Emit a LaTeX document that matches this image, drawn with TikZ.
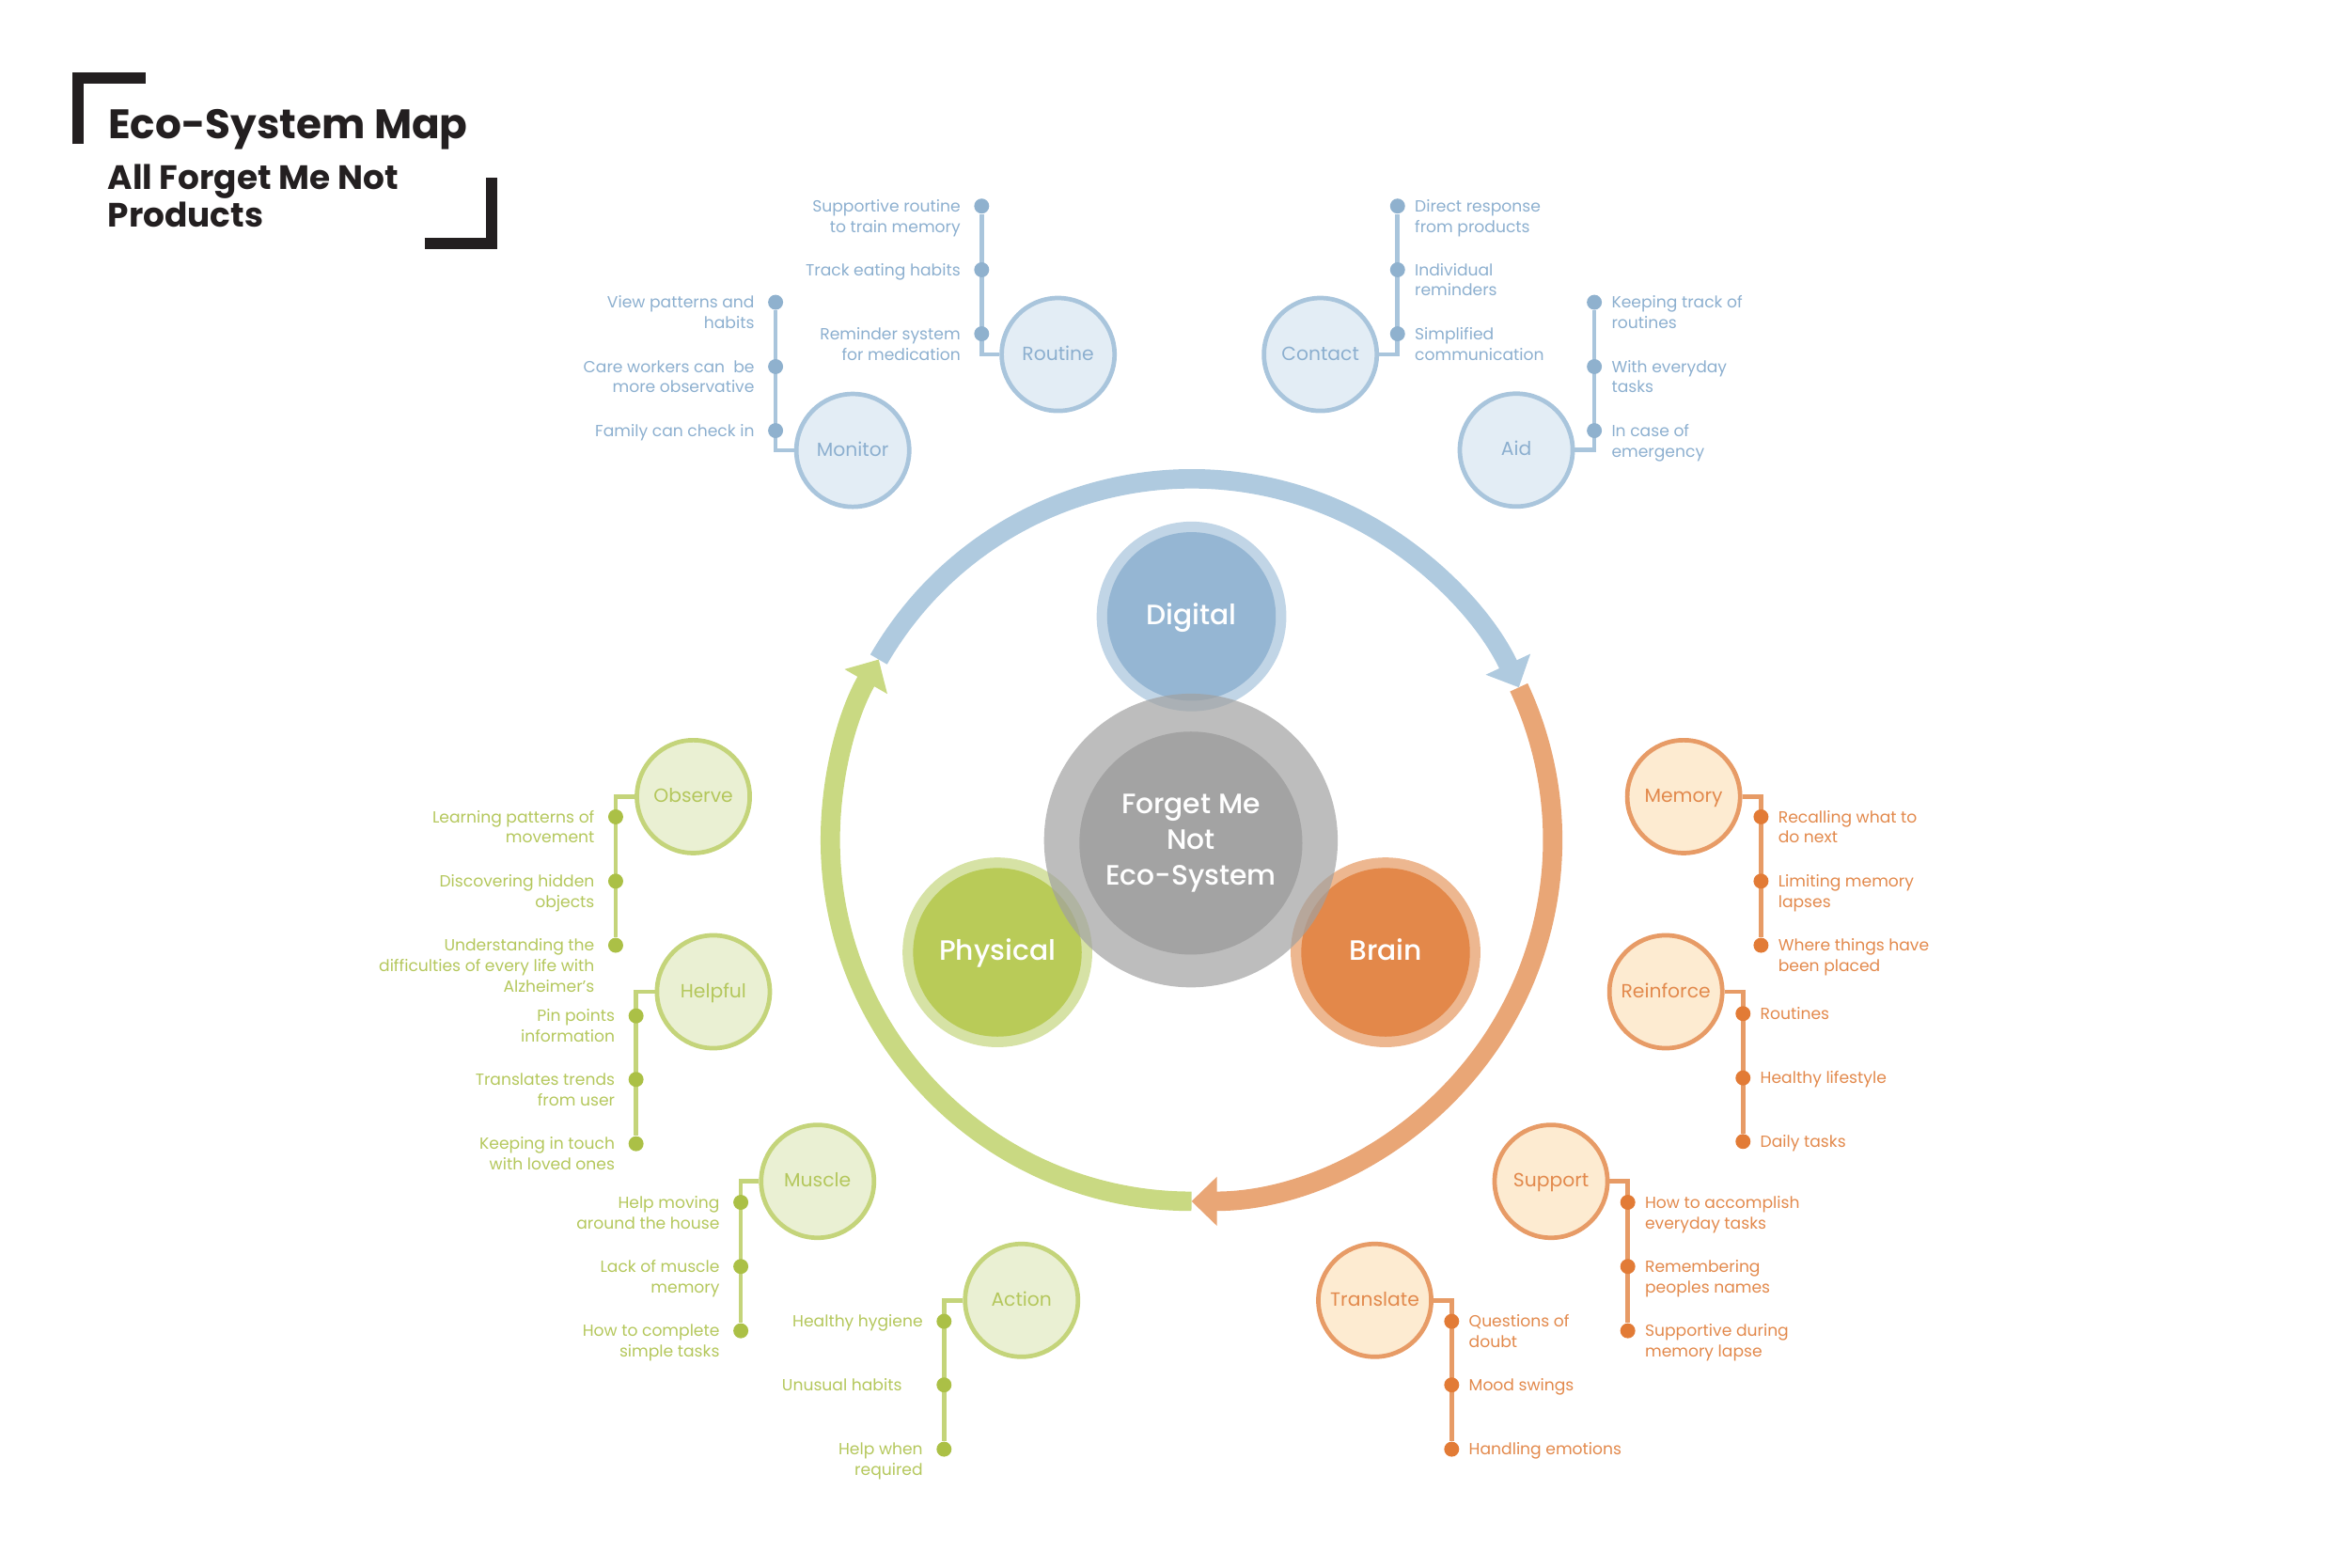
\documentclass[tikz,border=0pt]{standalone}
\usepackage{fontspec}
\setmainfont{Poppins}
\newfontfamily\medfont{Poppins Medium}
\usetikzlibrary{arrows.meta,backgrounds}

\definecolor{ink}{HTML}{231F20}
\definecolor{blueArc}{HTML}{AFCADF}
\definecolor{blueRing}{HTML}{A9C5DC}
\definecolor{blueFill}{HTML}{E3EDF5}
\definecolor{blueText}{HTML}{8CAFCF}
\definecolor{blueDot}{HTML}{8FB1CE}
\definecolor{greenArc}{HTML}{C9D982}
\definecolor{greenRing}{HTML}{C4D47A}
\definecolor{greenFill}{HTML}{EAF0D3}
\definecolor{greenText}{HTML}{B4C75C}
\definecolor{greenDot}{HTML}{ABC046}
\definecolor{orangeArc}{HTML}{E9A676}
\definecolor{orangeRing}{HTML}{E79B66}
\definecolor{orangeFill}{HTML}{FDEBD1}
\definecolor{orangeText}{HTML}{E2894C}
\definecolor{orangeDot}{HTML}{E27B36}
\definecolor{digitalRing}{HTML}{C1D5E6}
\definecolor{digitalCore}{HTML}{95B6D3}
\definecolor{physicalRing}{HTML}{D6E2A5}
\definecolor{physicalCore}{HTML}{B9CB58}
\definecolor{brainRing}{HTML}{EDB790}
\definecolor{brainCore}{HTML}{E3884A}
\definecolor{hubRing}{HTML}{A1A1A1}
\definecolor{hubCore}{HTML}{A3A3A3}

\newcommand\lblfont{\fontsize{9.8pt}{12.4pt}\selectfont}
\newcommand\satfont{\fontsize{11.6pt}{14pt}\selectfont}
\newcommand\corefont{\medfont\fontsize{17pt}{21.8pt}\selectfont}

\begin{document}
\begin{tikzpicture}[x=0.032cm, y=0.032cm,
    sat/.style={circle, draw=#1Ring, fill=#1Fill, text=#1Text, line width=2.7pt, minimum size=2.41cm, inner sep=0pt, text height=0.7em, text depth=0pt, font=\satfont},
    dot/.style={circle, fill=#1Dot, minimum size=0.32cm, inner sep=0pt},
    con/.style={draw=#1Ring, line width=2.7pt},
    lblL/.style={text=#1Text, font=\lblfont, align=right, anchor=base east, inner sep=0pt, xshift=-12.7pt, yshift=-3.6pt},
    lblR/.style={text=#1Text, font=\lblfont, align=left, anchor=base west, inner sep=0pt, xshift=10.3pt, yshift=-3.6pt},
    two/.style={yshift=-12.4pt},
    three/.style={yshift=-24.8pt},
    band/.style={draw=#1Arc, line width=11.8pt, -{Triangle[length=15.5pt, width=29pt]}},
    hub/.style={circle, inner sep=0pt, draw=none, text=white, font=\corefont, align=center},
    core/.style={hub, text height=1em, text depth=0pt},
    bracket/.style={draw=ink, line width=7pt}]
    \useasboundingbox (0,0) rectangle (1568,1046);

    % Title
    \draw[bracket] (52.1,949.8) -- (52.1,993.8) -- (97.2,993.8);
    \draw[bracket] (283.3,883.5) -- (328.2,883.5) -- (328.2,927.3);
    \node[anchor=base west, inner sep=0pt, text=ink, font=\fontsize{25pt}{30pt}\bfseries] (title) at (72,953.6) {Eco-System Map};
    \node[anchor=base west, inner sep=0pt, text=ink, align=left, font=\fontsize{20.5pt}{22.8pt}\bfseries] (subtitle) at (71.7,894.4) {All Forget Me Not\\Products};

    % Cycle
    \coordinate (ringC) at (795,485.5);
    \path (ringC) ++(150:241) coordinate (blueTail);
    \path (ringC) ++(25:241) coordinate (orangeTail);
    \path (ringC) ++(-90:241) coordinate (greenTail);
    \draw[band=blue] (blueTail) arc[start angle=150, end angle=25, radius=241];
    \draw[band=orange] (orangeTail) arc[start angle=25, end angle=-90, radius=241];
    \draw[band=green] (greenTail) arc[start angle=-90, end angle=-210, radius=241];

    % Hubs
    \node[hub, minimum size=4.05cm, fill=digitalRing] (digitalRing) at (795,634.7) {};
    \node[core, minimum size=3.6cm, fill=digitalCore] (digital) at (795,634.7) {Digital};
    \node[hub, minimum size=4.05cm, fill=physicalRing] (physicalRing) at (665.5,410.6) {};
    \node[core, minimum size=3.6cm, fill=physicalCore] (physical) at (665.5,410.6) {Physical};
    \node[hub, minimum size=4.05cm, fill=brainRing] (brainRing) at (924.5,410.6) {};
    \node[core, minimum size=3.6cm, fill=brainCore] (brain) at (924.5,410.6) {Brain};
    \node[hub, minimum size=6.27cm, fill=hubRing, fill opacity=0.7] (hubRing) at (794.6,485.2) {};
    \node[hub, minimum size=4.76cm, fill=hubCore] (hub) at (794.6,483.5) {Forget Me\\Not\\Eco-System};

    % Digital
    \node[sat=blue] (routine) at (706,809.5) {Routine};
    \node[dot=blue] (routine1) at (655,908.5) {};
    \node[dot=blue] (routine2) at (655,866) {};
    \node[dot=blue] (routine3) at (655,823.3) {};
    \node[lblL=blue, two] at (routine1) {Supportive routine\\to train memory};
    \node[lblL=blue] at (routine2) {Track eating habits};
    \node[lblL=blue, two] at (routine3) {Reminder system\\for medication};

    \node[sat=blue] (monitor) at (569,745.5) {Monitor};
    \node[dot=blue] (monitor1) at (517.5,844.3) {};
    \node[dot=blue] (monitor2) at (517.5,801.4) {};
    \node[dot=blue] (monitor3) at (517.5,758.7) {};
    \node[lblL=blue, two] at (monitor1) {View patterns and\\habits};
    \node[lblL=blue, two] at (monitor2) {Care workers can\ \ be\\more observative};
    \node[lblL=blue] at (monitor3) {Family can check in};

    \node[sat=blue] (contact) at (881,809.5) {Contact};
    \node[dot=blue] (contact1) at (932.5,908.5) {};
    \node[dot=blue] (contact2) at (932.5,866) {};
    \node[dot=blue] (contact3) at (932.5,823.3) {};
    \node[lblR=blue, two] at (contact1) {Direct response\\from products};
    \node[lblR=blue, two] at (contact2) {Individual\\reminders};
    \node[lblR=blue, two] at (contact3) {Simplified\\communication};

    \node[sat=blue] (aid) at (1011.7,745.7) {Aid};
    \node[dot=blue] (aid1) at (1063.8,844.3) {};
    \node[dot=blue] (aid2) at (1063.8,801.4) {};
    \node[dot=blue] (aid3) at (1063.8,758.7) {};
    \node[lblR=blue, two] at (aid1) {Keeping track of\\routines};
    \node[lblR=blue, two] at (aid2) {With everyday\\tasks};
    \node[lblR=blue, two] at (aid3) {In case of\\emergency};

    % Physical
    \node[sat=green] (observe) at (462.6,514.5) {Observe};
    \node[dot=green] (observe1) at (410.8,501) {};
    \node[dot=green] (observe2) at (410.8,458.1) {};
    \node[dot=green] (observe3) at (410.8,415.3) {};
    \node[lblL=green, two] at (observe1) {Learning patterns of\\movement};
    \node[lblL=green, two] at (observe2) {Discovering hidden\\objects};
    \node[lblL=green, three] at (observe3) {Understanding the\\difficulties of every life with\\Alzheimer’s};

    \node[sat=green] (helpful) at (476,384.3) {Helpful};
    \node[dot=green] (helpful1) at (424.4,368.2) {};
    \node[dot=green] (helpful2) at (424.4,325.8) {};
    \node[dot=green] (helpful3) at (424.4,282.9) {};
    \node[lblL=green, two] at (helpful1) {Pin points\\information};
    \node[lblL=green, two] at (helpful2) {Translates trends\\from user};
    \node[lblL=green, two] at (helpful3) {Keeping in touch\\with loved ones};

    \node[sat=green] (muscle) at (545.5,257.8) {Muscle};
    \node[dot=green] (muscle1) at (494.3,243.8) {};
    \node[dot=green] (muscle2) at (494.3,201) {};
    \node[dot=green] (muscle3) at (494.3,158.1) {};
    \node[lblL=green, two] at (muscle1) {Help moving\\around the house};
    \node[lblL=green, two] at (muscle2) {Lack of muscle\\memory};
    \node[lblL=green, two] at (muscle3) {How to complete\\simple tasks};

    \node[sat=green] (action) at (681.6,178.4) {Action};
    \node[dot=green] (action1) at (629.9,164.4) {};
    \node[dot=green] (action2) at (629.9,122) {};
    \node[dot=green] (action3) at (629.9,79.1) {};
    \node[lblL=green] at (action1) {Healthy hygiene};
    \node[lblL=green, xshift=-12.7pt] at (action2) {Unusual habits};
    \node[lblL=green, two] at (action3) {Help when\\required};

    % Brain
    \node[sat=orange] (memory) at (1123.4,514.5) {Memory};
    \node[dot=orange] (memory1) at (1175,501) {};
    \node[dot=orange] (memory2) at (1175,458.1) {};
    \node[dot=orange] (memory3) at (1175,415.3) {};
    \node[lblR=orange, two] at (memory1) {Recalling what to\\do next};
    \node[lblR=orange, two] at (memory2) {Limiting memory\\lapses};
    \node[lblR=orange, two] at (memory3) {Where things have\\been placed};

    \node[sat=orange] (reinforce) at (1111.5,384.3) {Reinforce};
    \node[dot=orange] (reinforce1) at (1163,369.7) {};
    \node[dot=orange] (reinforce2) at (1163,326.8) {};
    \node[dot=orange] (reinforce3) at (1163,284.4) {};
    \node[lblR=orange] at (reinforce1) {Routines};
    \node[lblR=orange] at (reinforce2) {Healthy lifestyle};
    \node[lblR=orange] at (reinforce3) {Daily tasks};

    \node[sat=orange] (support) at (1034.9,257.8) {Support};
    \node[dot=orange] (support1) at (1086.1,243.8) {};
    \node[dot=orange] (support2) at (1086.1,201) {};
    \node[dot=orange] (support3) at (1086.1,158.1) {};
    \node[lblR=orange, two] at (support1) {How to accomplish\\everyday tasks};
    \node[lblR=orange, two] at (support2) {Remembering\\peoples names};
    \node[lblR=orange, two] at (support3) {Supportive during\\memory lapse};

    \node[sat=orange] (translate) at (917.3,178.4) {Translate};
    \node[dot=orange] (translate1) at (968.6,164.4) {};
    \node[dot=orange] (translate2) at (968.6,122) {};
    \node[dot=orange] (translate3) at (968.6,79.1) {};
    \node[lblR=orange, two] at (translate1) {Questions of\\doubt};
    \node[lblR=orange] at (translate2) {Mood swings};
    \node[lblR=orange] at (translate3) {Handling emotions};

    % Connections
    \begin{pgfonlayer}{background}
        \draw[con=blue] (routine.west) -| (routine1);
        \draw[con=blue] (monitor.west) -| (monitor1);
        \draw[con=blue] (contact.east) -| (contact1);
        \draw[con=blue] (aid.east) -| (aid1);
        \draw[con=green] (observe.west) -| (observe3);
        \draw[con=green] (helpful.west) -| (helpful3);
        \draw[con=green] (muscle.west) -| (muscle3);
        \draw[con=green] (action.west) -| (action3);
        \draw[con=orange] (memory.east) -| (memory3);
        \draw[con=orange] (reinforce.east) -| (reinforce3);
        \draw[con=orange] (support.east) -| (support3);
        \draw[con=orange] (translate.east) -| (translate3);
    \end{pgfonlayer}
\end{tikzpicture}
\end{document}
